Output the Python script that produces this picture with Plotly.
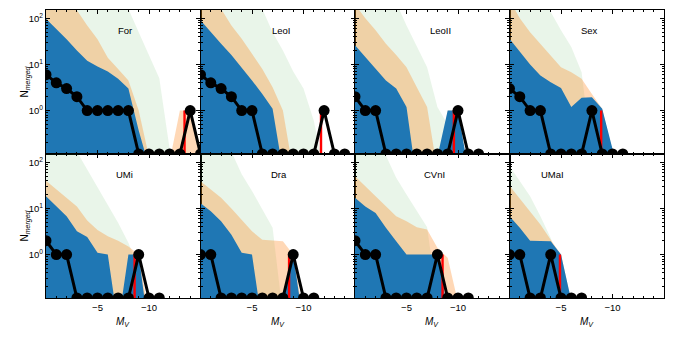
"""Merged-satellite counts vs M_V for eight dwarf hosts, 2x4 panel grid."""
import plotly.graph_objects as go
from plotly.subplots import make_subplots

FONT = "Liberation Sans"
BLUE = "#1f77b4"
ORANGE = "rgba(255,127,14,0.3)"
GREEN = "rgba(44,160,44,0.1)"
PAGE_OFFSET = 8  # the browser's default body margin shifts the figure by this much

# bin centres (M_V) shared by all panels
MV = [0, -1, -2, -3, -4, -5, -6, -7, -8, -9, -10, -11, -12, -13, -14, -15]

GALAXIES = ["For", "LeoI", "LeoII", "Sex", "UMi", "Dra", "CVnI", "UMaI"]
HOST_MV = [-13.45, -11.7, -9.6, -8.9, -8.6, -8.6, -8.5, -4.9]
LABEL_MV = [-7.7, -7.9, -8.3, -7.8, -7.6, -7.6, -7.7, -4.2]

# outer / middle / inner model bands
for_hi = [1000, 800, 600, 450, 350, 280, 230, 190, 160, 50, 16, 5, 0.15, 0.01, 0.01, 0.01]
for_mid = [400, 300, 220, 150, 70, 35, 14, 8, 4.5, 1, 0.1, 0.02, 0.08, 1, 1, 0.1]
for_lo = [98, 59, 35, 20, 12, 9, 7, 4.9, 3, 0.37, 0.05, 0.01, 0.01, 0.01, 0.01, 0.01]
for_n = [6, 4, 3, 2, 1, 1, 1, 1, 1, 0, 0, 0, 0, 0, 1, 0]

leoi_hi = [2000, 1500, 1000, 700, 450, 250, 160, 50, 20, 7, 3, 0.6, 0.05, 0.01, 0.01, 0.01]
leoi_mid = [400, 250, 160, 70, 36, 17, 8, 3.2, 1, 0.05, 0.01, 0.01, 0.01, 0.01, 0.01, 0.01]
leoi_lo = [91, 50, 28, 16, 8.7, 4.5, 2.3, 1.1, 0.05, 0.01, 0.01, 0.01, 0.01, 0.01, 0.01, 0.01]
leoi_n = [6, 4, 3, 2, 1, 1, 0, 0, 0, 0, 0, 0, 1, 0, 0]

leoii_hi = [2000, 1500, 1000, 600, 220, 70, 24, 8.7, 1.2, 0.5, 0.01, 0.01, 0.01, 0.01, 0.01, 0.01]
leoii_mid = [200, 100, 55, 28, 16, 8.7, 3.2, 1.2, 0.05, 1, 1, 0.05, 0.01, 0.01, 0.01, 0.01]
leoii_lo = [26, 14.5, 8, 4.5, 3, 1.2, 0.03, 0.01, 0.1, 1, 1, 0.05, 0.01, 0.01, 0.01, 0.01]
leoii_n = [2, 1, 1, 0, 0, 0, 0, 0, 0, 0, 1, 0, 0]

sex_hi = [2000, 1500, 1000, 300, 137, 55, 24, 6.8, 0.1, 0.01, 0.01, 0.01, 0.01, 0.01, 0.01, 0.01]
sex_mid = [250, 100, 50, 28, 16, 8.7, 6.8, 4.9, 2.3, 1.1, 0.13, 0.01, 0.01, 0.01, 0.01, 0.01]
sex_lo = [36, 18.5, 10, 5.8, 4.1, 3.1, 1.2, 1.9, 1.95, 1.1, 0.13, 0.02, 0.01, 0.01, 0.01, 0.01]
sex_n = [3, 2, 1, 1, 0, 0, 0, 0, 1, 0, 0, 0]

umi_hi = [600, 400, 250, 170, 70, 31, 12, 4.9, 1.8, 0.5, 0.05, 0.01, 0.01, 0.01, 0.01, 0.01]
umi_mid = [40, 26, 17, 11, 5.5, 3.4, 2.5, 2, 1.5, 1, 0.05, 0.01, 0.01, 0.01, 0.01, 0.01]
umi_lo = [18.5, 11, 6.8, 3.2, 2.4, 1.1, 1, 0.03, 1, 1, 0.02, 0.01, 0.01, 0.01, 0.01, 0.01]
umi_n = [2, 1, 1, 0, 0, 0, 0, 0, 0, 1, 0, 0]

dra_hi = [600, 400, 250, 170, 55, 24, 9.5, 3.8, 0.05, 0.01, 0.01, 0.01, 0.01, 0.01, 0.01, 0.01]
dra_mid = [39, 26, 17, 10, 5.8, 3.2, 2.1, 2, 1.95, 1, 0.05, 0.01, 0.01, 0.01, 0.01, 0.01]
dra_lo = [13, 8.7, 5.3, 2.7, 1.1, 1, 0.03, 0.03, 0.12, 1, 0.03, 0.01, 0.01, 0.01, 0.01, 0.01]
dra_n = [1, 1, 0, 0, 0, 0, 0, 0, 0, 1, 0, 0]

cvni_hi = [600, 400, 250, 140, 46, 20, 8.7, 3.9, 0.1, 0.01, 0.01, 0.01, 0.01, 0.01, 0.01, 0.01]
cvni_mid = [50, 30, 18.5, 11, 6.8, 5.3, 3.9, 3.5, 1.4, 0.85, 0.1, 0.01, 0.01, 0.01, 0.01, 0.01]
cvni_lo = [17, 11, 8, 3.8, 1.95, 1, 1, 1, 1, 0.06, 0.01, 0.01, 0.01, 0.01, 0.01, 0.01]
cvni_n = [2, 1, 1, 0, 0, 0, 0, 0, 1, 0, 0, 0]

umai_hi = [83, 39, 18.5, 6.8, 2.3, 0.5, 0.05, 0.01, 0.01, 0.01, 0.01, 0.01, 0.01, 0.01, 0.01, 0.01]
umai_mid = [31, 16, 8.7, 4.5, 2.1, 1, 0.1, 0.01, 0.01, 0.01, 0.01, 0.01, 0.01, 0.01, 0.01, 0.01]
umai_lo = [6.8, 3.8, 2, 1.95, 1.95, 1, 0.1, 0.01, 0.01, 0.01, 0.01, 0.01, 0.01, 0.01, 0.01, 0.01]
umai_n = [1, 1, 0, 0, 1, 0, 0, 0]

BANDS = [
    (for_hi, for_mid, for_lo, for_n),
    (leoi_hi, leoi_mid, leoi_lo, leoi_n),
    (leoii_hi, leoii_mid, leoii_lo, leoii_n),
    (sex_hi, sex_mid, sex_lo, sex_n),
    (umi_hi, umi_mid, umi_lo, umi_n),
    (dra_hi, dra_mid, dra_lo, dra_n),
    (cvni_hi, cvni_mid, cvni_lo, cvni_n),
    (umai_hi, umai_mid, umai_lo, umai_n),
]

Y_LOG_RANGE = [-0.94, 2.18]
Y_FLOOR = 10 ** Y_LOG_RANGE[0]  # zero counts sit on the bottom spine

fig = make_subplots(rows=2, cols=4, horizontal_spacing=0, vertical_spacing=0)

for i, (name, host, (hi, mid, lo, n)) in enumerate(zip(GALAXIES, HOST_MV, BANDS)):
    row, col = i // 4 + 1, i % 4 + 1
    for band, color in ((hi, GREEN), (mid, ORANGE), (lo, BLUE)):
        fig.add_trace(go.Scatter(
            x=MV, y=band, mode="lines", fill="tozeroy", fillcolor=color,
            line=dict(width=0), hoverinfo="skip", showlegend=False,
        ), row=row, col=col)
    counts = [v if v > 0 else Y_FLOOR for v in n]
    fig.add_trace(go.Scatter(
        x=[host, host], y=[Y_FLOOR, 1], mode="lines",
        line=dict(color="red", width=2.4), showlegend=False,
    ), row=row, col=col)
    fig.add_trace(go.Scatter(
        x=MV[:len(n)], y=counts, mode="lines+markers",
        line=dict(color="black", width=3),
        marker=dict(size=11, color="black"), showlegend=False,
    ), row=row, col=col)

    ax = "" if i == 0 else str(i + 1)
    fig.add_annotation(
        text=name, x=LABEL_MV[i], xref=f"x{ax}", y=1, yref=f"y{ax} domain",
        yshift=-20, yanchor="middle", showarrow=False, font=dict(size=9.5, color="black"),
    )

    fig.update_xaxes(
        range=[0, -15], tickmode="array", tickvals=[-5, -10],
        ticktext=["\u22125", "\u221210"], showticklabels=(row == 2),
        ticks="inside", ticklen=4, tickcolor="black",
        minor=dict(ticks="inside", ticklen=2, tickcolor="black",
                   tickmode="array", tickvals=[-1, -2, -3, -4, -6, -7, -8, -9, -11, -12, -13, -14]),
        showline=True, linecolor="black", linewidth=1.2, mirror="allticks",
        showgrid=False, zeroline=False, row=row, col=col,
    )
    fig.update_yaxes(
        type="log", range=Y_LOG_RANGE, tickmode="array", tickvals=[1, 10, 100],
        ticktext=["10<sup>0</sup>", "10<sup>1</sup>", "10<sup>2</sup>"],
        showticklabels=(col == 1), ticks="inside", ticklen=4, tickcolor="black",
        minor=dict(ticks="inside", ticklen=2, tickcolor="black", tickmode="array",
                   tickvals=[0.2, 0.3, 0.4, 0.5, 0.6, 0.7, 0.8, 0.9,
                             2, 3, 4, 5, 6, 7, 8, 9, 20, 30, 40, 50, 60, 70, 80, 90]),
        showline=True, linecolor="black", linewidth=1.2, mirror="allticks",
        showgrid=False, zeroline=False, row=row, col=col,
    )
    if row == 2:
        fig.add_annotation(
            text="<i>M<sub>V</sub></i>", x=0.5, xref=f"x{ax} domain", y=0, yref=f"y{ax} domain",
            yshift=-24, yanchor="middle", showarrow=False, font=dict(size=10, color="black"),
        )

for row in (1, 2):
    ax = "" if row == 1 else "5"
    fig.add_annotation(
        text="N<sub><i>merged</i></sub>", textangle=-90, x=0, xref=f"x{ax} domain",
        y=0.5, yref=f"y{ax} domain", xshift=-30, showarrow=False,
        font=dict(size=10, color="black"),
    )

fig.update_layout(
    width=674, height=337,
    margin=dict(l=46 - PAGE_OFFSET, r=10 + PAGE_OFFSET, t=10 - PAGE_OFFSET, b=39 + PAGE_OFFSET),
    paper_bgcolor="white", plot_bgcolor="white",
    font=dict(family=FONT, size=9.5, color="black"),
    showlegend=False,
)

fig.write_html("out.html")
